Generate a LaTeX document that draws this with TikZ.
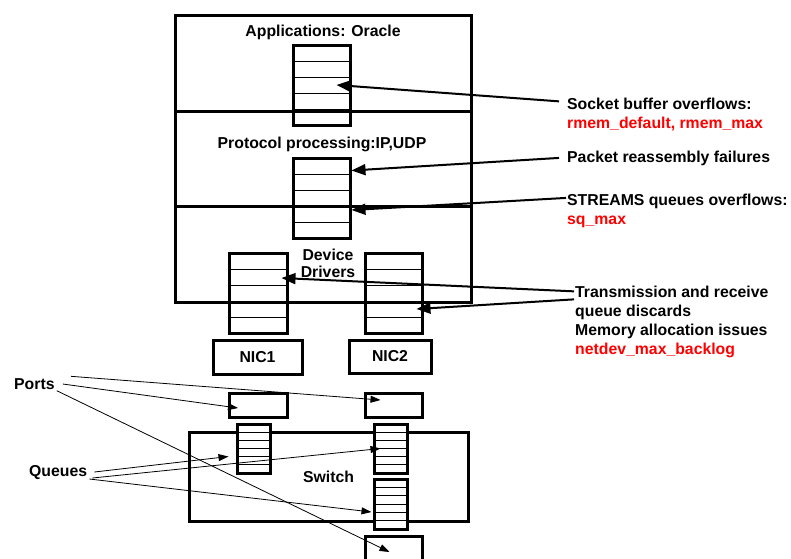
\documentclass[tikz,border=0pt]{standalone}
\usepackage{fontspec}
\setmainfont{Liberation Sans}
\usetikzlibrary{arrows.meta,calc}

\tikzset{
  box/.style={draw, line width=3pt, inner sep=0pt},
  qbox/.style={box, fill=white},
  rows/.style={path picture={
      \foreach \i in {1,...,#1}
        \draw[line width=1pt]
          ($(path picture bounding box.north west)!\i/#1!(path picture bounding box.south west)$) --
          ($(path picture bounding box.north east)!\i/#1!(path picture bounding box.south east)$);
    }},
  txt/.style={font=\fontsize{15.8}{17}\selectfont\bfseries, inner sep=1pt},
  fat/.style={line width=2pt, -{Triangle[length=14pt,width=11pt]}},
  slim/.style={line width=0.8pt, -{Triangle[length=10pt,width=7pt]}},
}

\begin{document}
\begin{tikzpicture}[x=1pt, y=-1pt]
    \useasboundingbox (0,0) rectangle (791,558);

    % Host layers
    \node[box, anchor=north west, minimum width=296pt, minimum height=96pt] (app) at (174,14) {};
    \node[box, anchor=north west, minimum width=296pt, minimum height=95pt] (proto) at (174,110) {};
    \node[box, anchor=north west, minimum width=296pt, minimum height=96pt] (drv) at (174,205) {};

    \node[txt, anchor=base] (applbl) at (323,36) {Applications: Oracle};
    \node[txt, anchor=base] (protolbl) at (322,148) {Protocol processing:IP,UDP};
    \node[txt, align=center, anchor=north] (drvlbl) at (328,248) {Device\\Drivers};

    % Buffers in the host
    \node[box, rows=5, minimum width=57pt, minimum height=80pt] (appq) at (321.5,85) {};
    \node[box, rows=5, minimum width=57pt, minimum height=80pt] (protoq) at (321.5,198) {};
    \node[box, rows=5, minimum width=58pt, minimum height=80pt] (drvL) at (258,293) {};
    \node[box, rows=5, minimum width=57pt, minimum height=80pt] (drvR) at (393.5,293) {};

    % NICs
    \node[box, txt, inner sep=0pt, minimum width=89pt, minimum height=34pt] (nic1) at (257.5,357.5) {NIC1};
    \node[box, txt, inner sep=0pt, minimum width=82pt, minimum height=33pt] (nic2) at (390,356.5) {NIC2};

    % Switch with its ports and queues
    \node[box, minimum width=58pt, minimum height=24pt] (portL) at (258,405) {};
    \node[box, minimum width=57pt, minimum height=24pt] (portR) at (393.5,405) {};
    \node[box, txt, inner sep=0pt, minimum width=279pt, minimum height=89pt] (sw) at (328.5,476.5) {Switch};
    \node[box, minimum width=57pt, minimum height=24pt] (portB) at (393.5,548) {};
    \node[qbox, rows=6, minimum width=33pt, minimum height=49pt] (qL) at (253.5,448.5) {};
    \node[qbox, rows=6, minimum width=33pt, minimum height=49pt] (qR) at (390.5,448.5) {};
    \node[qbox, rows=6, minimum width=33pt, minimum height=50pt] (qR2) at (390.5,504) {};

    % Notes on the right
    \node[txt, anchor=base west] (sock) at (566,109) {Socket buffer overflows:};
    \node[txt, red, anchor=base west] (sockval) at (566,128) {rmem\_default, rmem\_max};
    \node[txt, anchor=base west] (pkt) at (566,162) {Packet reassembly failures};
    \node[txt, anchor=base west] (streams) at (566,205) {STREAMS queues overflows:};
    \node[txt, red, anchor=base west] (sqval) at (566,224) {sq\_max};
    \node[txt, anchor=base west] (trans) at (574,297) {Transmission and receive};
    \node[txt, anchor=base west] (discard) at (574,316) {queue discards};
    \node[txt, anchor=base west] (mem) at (574,335) {Memory allocation issues};
    \node[txt, red, anchor=base west] (netdev) at (574,354) {netdev\_max\_backlog};

    \draw[fat] ([xshift=-7pt,yshift=2pt]sock.west) -- ($(appq.center)!0.5!(appq.east)$);
    \draw[fat] ([xshift=-7pt]pkt.west) -- ([yshift=-14pt]protoq.north east);
    \draw[fat] ([yshift=3pt]streams.west) -- ([yshift=-12pt]protoq.east);
    \draw[fat] (trans.west) -- ([xshift=-7pt,yshift=15pt]drvL.east);
    \draw[fat] ([yshift=-8pt]trans.west) -- ([xshift=-7pt,yshift=-16pt]drvR.east);

    % Notes on the left
    \node[txt, anchor=west] (ports) at (13,384) {Ports};
    \node[txt, anchor=west] (queues) at (28,473) {Queues};

    \draw[slim] ([xshift=15pt,yshift=1pt]ports.north east) -- ([xshift=-13pt,yshift=5pt]portR.center);
    \draw[slim] ([xshift=7pt]ports.east) -- ([xshift=-20pt,yshift=-3pt]portL.center);
    \draw[slim] ([xshift=1pt]ports.south east) -- ([xshift=-4pt,yshift=-4pt]portB.center);

    \draw[slim] ([xshift=6pt,yshift=1pt]queues.east) -- ([xshift=-7pt,yshift=-8pt]qL.west);
    \draw[slim] ([xshift=4pt,yshift=-5pt]queues.east) -- ([xshift=8pt]qR.west);
    \draw[slim] ([xshift=1pt,yshift=-6pt]queues.east) -- ([xshift=-1pt,yshift=-8pt]qR2.west);
\end{tikzpicture}
\end{document}
